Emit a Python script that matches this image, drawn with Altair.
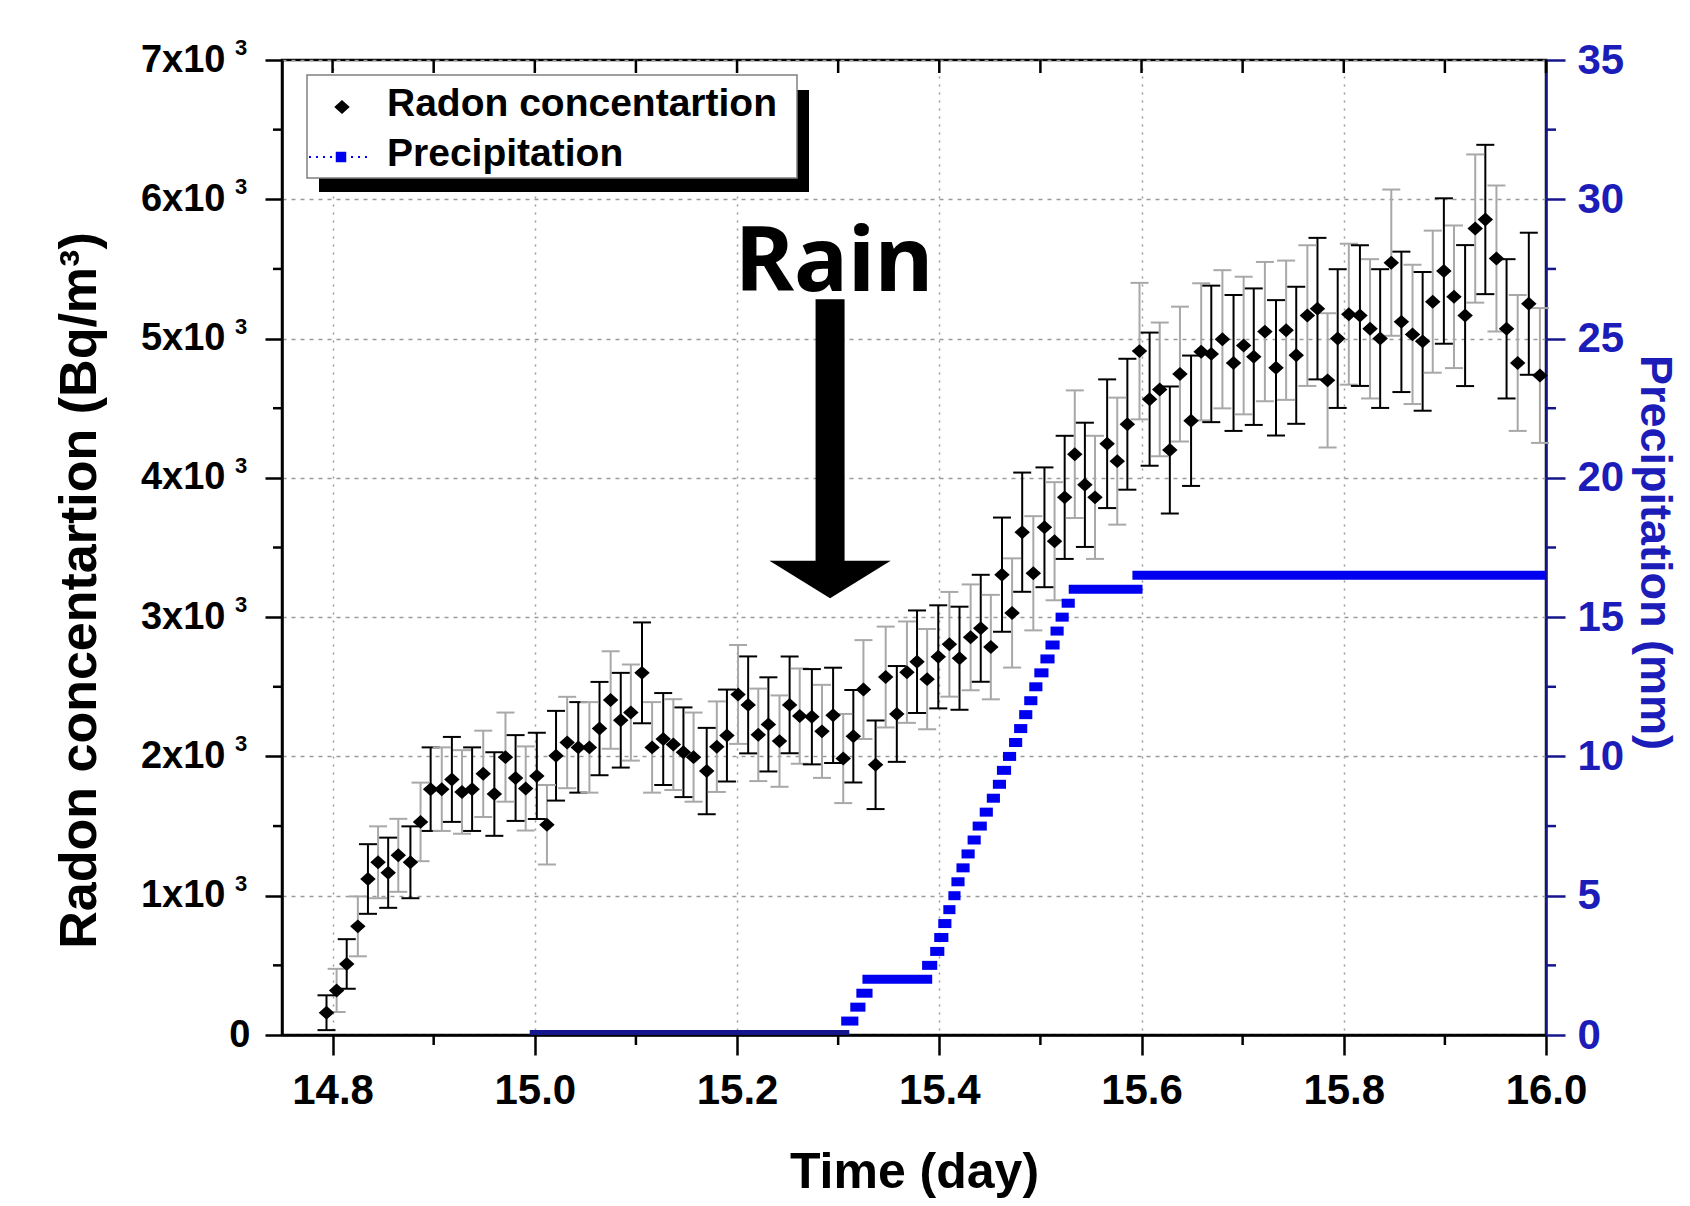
import altair as alt
import pandas as pd

# ---------------- data ----------------
time_day = [14.794, 14.804, 14.814, 14.825, 14.835, 14.845, 14.855, 14.865, 14.877, 14.887,
            14.897, 14.908, 14.918, 14.928, 14.938, 14.949, 14.960, 14.971, 14.981, 14.991,
            15.002, 15.012, 15.021, 15.032, 15.043, 15.054, 15.064, 15.075, 15.085, 15.095,
            15.106, 15.116, 15.127, 15.137, 15.147, 15.157, 15.170, 15.180, 15.190, 15.201,
            15.211, 15.221, 15.231, 15.242, 15.252, 15.262, 15.274, 15.284, 15.295, 15.305,
            15.315, 15.325, 15.337, 15.347, 15.358, 15.368, 15.378, 15.388, 15.399, 15.410,
            15.420, 15.431, 15.441, 15.451, 15.462, 15.472, 15.482, 15.493, 15.504, 15.514,
            15.524, 15.534, 15.544, 15.554, 15.566, 15.576, 15.586, 15.598, 15.608, 15.618,
            15.628, 15.638, 15.649, 15.659, 15.669, 15.680, 15.691, 15.701, 15.711, 15.722,
            15.733, 15.743, 15.753, 15.764, 15.774, 15.784, 15.794, 15.805, 15.816, 15.826,
            15.836, 15.847, 15.857, 15.868, 15.878, 15.888, 15.899, 15.909, 15.920, 15.930,
            15.940, 15.951, 15.961, 15.972, 15.983, 15.994]

radon = [160, 320, 510, 780, 1120, 1240, 1165, 1290, 1240, 1530,
         1765, 1765, 1835, 1745, 1765, 1875, 1730, 1995, 1845, 1770,
         1860, 1510, 2005, 2100, 2065, 2065, 2200, 2405, 2260, 2315,
         2600, 2065, 2125, 2085, 2030, 1995, 1895, 2070, 2150, 2445,
         2370, 2155, 2230, 2110, 2370, 2290, 2285, 2180, 2295, 1985,
         2145, 2480, 1940, 2570, 2305, 2605, 2680, 2555, 2715, 2805,
         2705, 2855, 2920, 2785, 3305, 3030, 3610, 3315, 3645, 3545,
         3860, 4170, 3950, 3860, 4245, 4120, 4385, 4910, 4565, 4635,
         4200, 4745, 4410, 4905, 4890, 4995, 4825, 4950, 4870, 5050,
         4790, 5060, 4880, 5165, 5215, 4700, 5000, 5175, 5165, 5070,
         5000, 5545, 5120, 5030, 4980, 5265, 5485, 5300, 5165, 5790,
         5855, 5575, 5070, 4825, 5250, 4735]

radon_err = [125, 155, 178, 215, 250, 258, 252, 262, 258, 282,
             300, 300, 305, 300, 300, 310, 300, 320, 308, 302,
             310, 285, 322, 328, 325, 325, 335, 350, 340, 345,
             362, 325, 330, 326, 322, 320, 310, 325, 330, 355,
             348, 332, 338, 328, 348, 342, 342, 334, 342, 320,
             332, 355, 318, 362, 344, 364, 368, 360, 370, 376,
             370, 380, 384, 375, 410, 392, 428, 410, 430, 424,
             442, 458, 446, 442, 462, 456, 470, 490, 478, 480,
             456, 484, 468, 492, 490, 496, 488, 494, 490, 500,
             486, 500, 492, 505, 508, 482, 498, 506, 505, 500,
             498, 525, 504, 500, 498, 510, 522, 512, 506, 532,
             536, 524, 500, 488, 510, 484]

precip_start = [14.995, 15.303, 15.312, 15.318, 15.324, 15.383, 15.391, 15.395, 15.399, 15.404,
                15.409, 15.412, 15.417, 15.422, 15.428, 15.433, 15.440, 15.447, 15.453, 15.457,
                15.463, 15.469, 15.474, 15.479, 15.484, 15.489, 15.494, 15.500, 15.505, 15.510,
                15.515, 15.521, 15.528, 15.591]
precip_end = [15.311, 15.320, 15.327, 15.334, 15.393, 15.398, 15.405, 15.409, 15.412, 15.416,
              15.421, 15.425, 15.430, 15.435, 15.441, 15.447, 15.453, 15.460, 15.466, 15.471,
              15.476, 15.482, 15.487, 15.492, 15.497, 15.502, 15.508, 15.514, 15.519, 15.523,
              15.528, 15.534, 15.601, 16.0]
precip_mm = [0.0, 0.5, 1.0, 1.5, 2.0, 2.5, 3.0, 3.5, 4.0, 4.5,
             5.0, 5.5, 6.0, 6.5, 7.0, 7.5, 8.0, 8.5, 9.0, 9.5,
             10.0, 10.5, 11.0, 11.5, 12.0, 12.5, 13.0, 13.5, 14.0, 14.5,
             15.0, 15.5, 16.0, 16.5]

x_ticks = [14.8, 15.0, 15.2, 15.4, 15.6, 15.8, 16.0]
x_minor = [14.9, 15.1, 15.3, 15.5, 15.7, 15.9]
top_ticks = [14.8, 14.9, 15.0, 15.1, 15.2, 15.3, 15.4, 15.5, 15.6, 15.7, 15.8, 15.9, 16.0]
left_ticks = [0, 1000, 2000, 3000, 4000, 5000, 6000, 7000]
left_minor = [500, 1500, 2500, 3500, 4500, 5500, 6500]
exp_ticks = [1000, 2000, 3000, 4000, 5000, 6000, 7000]
exp_text = "3"
right_ticks = [0, 5, 10, 15, 20, 25, 30, 35]
right_minor = [2.5, 7.5, 12.5, 17.5, 22.5, 27.5, 32.5]
series_names = ["Radon concentartion", "Precipitation"]
annot_text = ["Rain"]

# annotation anchor (data units)
rain_x, rain_y = 15.296, 5344
arrow_x, arrow_top, arrow_bottom, arrow_head = 15.292, 5282, 3330, 3405

# ---------------- styling ----------------
W, H = 1264, 975
FONT = "Liberation Sans"
BLUE = "#0000f0"
NAVY = "#16168c"
AXBLUE = "#1c1cb8"

xs = alt.Scale(domain=[14.75, 16.0], nice=False, zero=False)
ys = alt.Scale(domain=[0, 7000], nice=False, zero=False)
yr = alt.Scale(domain=[0, 35], nice=False, zero=False)

radon_df = pd.DataFrame({"time": time_day, "radon": radon, "err": radon_err})
radon_df["idx"] = range(len(radon_df))
radon_df["lo"] = radon_df["radon"] - radon_df["err"]
radon_df["hi"] = radon_df["radon"] + radon_df["err"]
radon_df["shade"] = ["a" if i % 2 == 0 else "b" for i in radon_df["idx"]]

eb_color = alt.Color("shade:N", scale=alt.Scale(domain=["a", "b"], range=["#000000", "#a8a8a8"]),
                     legend=None)

x_axis = alt.Axis(values=x_ticks, format=".1f", title="Time (day)", grid=True,
                  gridDash=[2, 6], gridColor="#9a9a9a", gridWidth=1.5,
                  tickSize=20, tickWidth=2.5, labelFontSize=42, labelPadding=15,
                  labelFlush=False, labelOverlap=False,
                  titleFontSize=50, titleBaseline="alphabetic", titleY=152)

y_axis = alt.Axis(values=left_ticks,
                  labelExpr="datum.value == 0 ? '0' : format(datum.value / 1000, 'd') + 'x10'",
                  labelPadding={"condition": {"test": "datum.value == 0", "value": 15}, "value": 40},
                  title="Radon concentartion (Bq/m³)", grid=True,
                  gridDash=[4, 5], gridColor="#9a9a9a", gridWidth=1.5,
                  tickSize=17, tickWidth=2.5, labelFontSize=38,
                  labelFlush=False, labelOverlap=False,
                  titleFontSize=52, titleAngle=270, titleBaseline="alphabetic",
                  titleX=-187, titleY=530)

r_axis = alt.Axis(orient="right", values=right_ticks, format="d", title="Precipitation (mm)",
                  grid=False, tickSize=19, tickWidth=2.5, tickColor=NAVY,
                  domainColor=NAVY, domainWidth=2.5, labelColor=AXBLUE, titleColor=AXBLUE,
                  labelFontSize=42, labelPadding=12, labelFlush=False, labelOverlap=False,
                  titleFontSize=45, titleAngle=90, titleBaseline="alphabetic",
                  titleX=94, titleY=492)


def X(f):
    return alt.X(f, scale=xs, axis=x_axis)


def YL(f):
    return alt.Y(f, scale=ys, axis=y_axis)


def YR(f):
    return alt.Y(f, scale=yr, axis=r_axis)


# ---------------- radon layers ----------------
bars = alt.Chart(radon_df).mark_rule(strokeWidth=2).encode(
    x=X("time:Q"), y=YL("lo:Q"), y2="hi:Q", color=eb_color)
cap_lo = alt.Chart(radon_df).mark_tick(orient="horizontal", size=18, thickness=2, opacity=1).encode(
    x=X("time:Q"), y=YL("lo:Q"), color=eb_color)
cap_hi = alt.Chart(radon_df).mark_tick(orient="horizontal", size=18, thickness=2, opacity=1).encode(
    x=X("time:Q"), y=YL("hi:Q"), color=eb_color)

DIAMOND = "M-1,0L0,-0.9L1,0L0,0.9Z"
points = alt.Chart(radon_df).mark_point(shape=DIAMOND, size=240, filled=True, opacity=1,
                                        color="black", strokeWidth=0).encode(
    x=X("time:Q"), y=YL("radon:Q"))

# extra ticks (minor / inward) and tick-label exponents
top_t = alt.Chart(pd.DataFrame({"t": top_ticks})).mark_rule(strokeWidth=2.5, color="black").encode(
    x=X("t:Q"), y=alt.value(0), y2=alt.value(13))
bot_minor = alt.Chart(pd.DataFrame({"t": x_minor})).mark_rule(strokeWidth=2.5, color="black").encode(
    x=X("t:Q"), y=alt.value(H), y2=alt.value(H + 10))
left_m = alt.Chart(pd.DataFrame({"v": left_minor})).mark_rule(strokeWidth=2.5, color="black").encode(
    y=YL("v:Q"), x=alt.value(-9), x2=alt.value(0))
exps = alt.Chart(pd.DataFrame({"v": exp_ticks, "s": [exp_text] * len(exp_ticks)})).mark_text(
    align="left", baseline="alphabetic", font=FONT, fontWeight="bold", fontSize=22,
    color="black", dy=-5).encode(y=YL("v:Q"), x=alt.value(-47), text="s:N")

# annotation
rain_df = pd.DataFrame({"x": [rain_x], "y": [rain_y], "t": annot_text})
rain = alt.Chart(rain_df).mark_text(font="Noto Sans", fontWeight="bold", fontSize=90,
                                    align="center", baseline="alphabetic", color="black").encode(
    x=X("x:Q"), y=YL("y:Q"), text="t:N")
arrow_df = pd.DataFrame({"x": [arrow_x], "y1": [arrow_top], "y2": [arrow_bottom], "yh": [arrow_head]})
shaft = alt.Chart(arrow_df).mark_rule(strokeWidth=29, color="black", strokeCap="butt").encode(
    x=X("x:Q"), y=YL("y1:Q"), y2="y2:Q")
head = alt.Chart(arrow_df).mark_point(shape="M-1,0L1,0L0,0.62Z", size=14700, filled=True,
                                      opacity=1, color="black", strokeWidth=0).encode(
    x=X("x:Q"), y=YL("yh:Q"))

# legend
one = pd.DataFrame({"k": [0]})
shadow = alt.Chart(one).mark_rect(color="black").encode(
    x=alt.value(37), x2=alt.value(527), y=alt.value(30), y2=alt.value(132))
box = alt.Chart(one).mark_rect(fill="white", stroke="#808080", strokeWidth=1.5).encode(
    x=alt.value(25), x2=alt.value(515), y=alt.value(15), y2=alt.value(118))
leg_d = alt.Chart(one).mark_point(shape=DIAMOND, size=240, filled=True, opacity=1,
                                  color="black", strokeWidth=0).encode(
    x=alt.value(60), y=alt.value(47))
leg_t1 = alt.Chart(pd.DataFrame({"name": [series_names[0]]})).mark_text(
    align="left", baseline="alphabetic", font=FONT, fontWeight="bold", fontSize=39,
    color="black").encode(x=alt.value(105), y=alt.value(56), text="name:N")
leg_line = alt.Chart(one).mark_rule(strokeDash=[2, 5], strokeWidth=2, color=BLUE).encode(
    x=alt.value(27), x2=alt.value(88), y=alt.value(97))
leg_sq = alt.Chart(one).mark_point(shape="square", size=110, filled=True, opacity=1,
                                   color=BLUE, strokeWidth=0).encode(
    x=alt.value(59), y=alt.value(97))
leg_t2 = alt.Chart(pd.DataFrame({"name": [series_names[1]]})).mark_text(
    align="left", baseline="alphabetic", font=FONT, fontWeight="bold", fontSize=39,
    color="black").encode(x=alt.value(105), y=alt.value(106), text="name:N")

left_group = alt.layer(bars, cap_lo, cap_hi, points, top_t, bot_minor, left_m, exps,
                       shaft, head, rain, shadow, box, leg_d, leg_t1, leg_line, leg_sq, leg_t2)

# ---------------- precipitation layers ----------------
precip_df = pd.DataFrame({"start": precip_start, "end": precip_end, "mm": precip_mm})
precip_zero = alt.Chart(precip_df).transform_filter("datum.mm == 0").mark_rule(
    strokeWidth=10, clip=True, color=NAVY).encode(
    x=X("start:Q"), x2="end:Q", y=YR("mm:Q"))
precip_pos = alt.Chart(precip_df).transform_filter("datum.mm > 0").mark_rule(
    strokeWidth=9, clip=True, color=BLUE).encode(
    x=X("start:Q"), x2="end:Q", y=YR("mm:Q"))
right_m = alt.Chart(pd.DataFrame({"v": right_minor})).mark_rule(strokeWidth=2.5, color=NAVY).encode(
    y=YR("v:Q"), x=alt.value(W), x2=alt.value(W + 10))

right_group = alt.layer(precip_zero, precip_pos, right_m)

chart = alt.layer(left_group, right_group).resolve_scale(y="independent").properties(
    width=W, height=H,
    autosize=alt.AutoSizeParams(type="none"),
    padding={"left": 274, "top": 52, "right": 136, "bottom": 163},
    background="white",
).configure_view(stroke="black", strokeWidth=2.5).configure_axis(
    labelFont=FONT, titleFont=FONT, labelFontWeight="bold", titleFontWeight="bold",
    labelColor="black", titleColor="black", tickColor="black", domainColor="black",
    domainWidth=2.5,
)

chart.save("out.html", embed_options={"renderer": "svg", "actions": False})
